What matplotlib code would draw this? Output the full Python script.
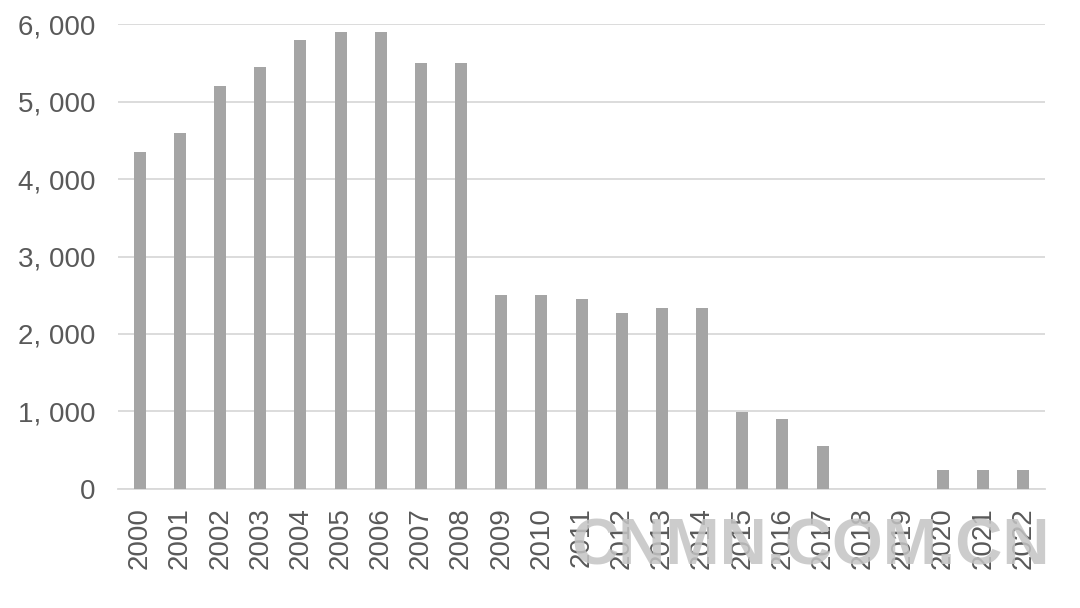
import matplotlib
matplotlib.use("Agg")
import matplotlib.pyplot as plt
from matplotlib.ticker import FuncFormatter

years = [str(y) for y in range(2000, 2023)]
values = [4350, 4600, 5200, 5450, 5800, 5900, 5900, 5500, 5500,
          2500, 2500, 2450, 2270, 2330, 2330,
          990, 900, 550, 0, 0, 240, 240, 240]
y_ticks = [0, 1000, 2000, 3000, 4000, 5000, 6000]

plt.rcParams['font.family'] = ['Liberation Sans', 'DejaVu Sans']

fig = plt.figure(figsize=(10.8, 6.08), dpi=100)
ax = fig.add_axes([0.109, 0.196, 0.859, 0.764])

x = range(len(years))
ax.bar(x, values, width=0.3, color='#a5a5a5', zorder=3)

ax.set_xlim(-0.55, len(years) - 0.45)
ax.set_ylim(0, 6000)
ax.set_yticks(y_ticks)
ax.yaxis.set_major_formatter(FuncFormatter(lambda v, p: f"{int(v):,}".replace(",", ", ")))
ax.set_xticks(list(x))
ax.set_xticklabels(years, rotation=90)

ax.grid(axis='y', color='#d9d9d9', linewidth=1.3, zorder=0)
for s in ['top', 'right', 'left']:
    ax.spines[s].set_visible(False)
ax.spines['bottom'].set_color('#d9d9d9')
ax.spines['bottom'].set_linewidth(1.3)
ax.tick_params(axis='both', length=0, labelsize=20, colors='#595959')
ax.tick_params(axis='x', pad=13)
ax.tick_params(axis='y', pad=16)

# site watermark
fig.text(0.751, 0.1, "CNMN.COM.CN", fontsize=47, fontweight='bold',
         color='#c4c4c4', alpha=0.85, ha='center', va='center')

fig.savefig("out.png", dpi=100, facecolor='white')
